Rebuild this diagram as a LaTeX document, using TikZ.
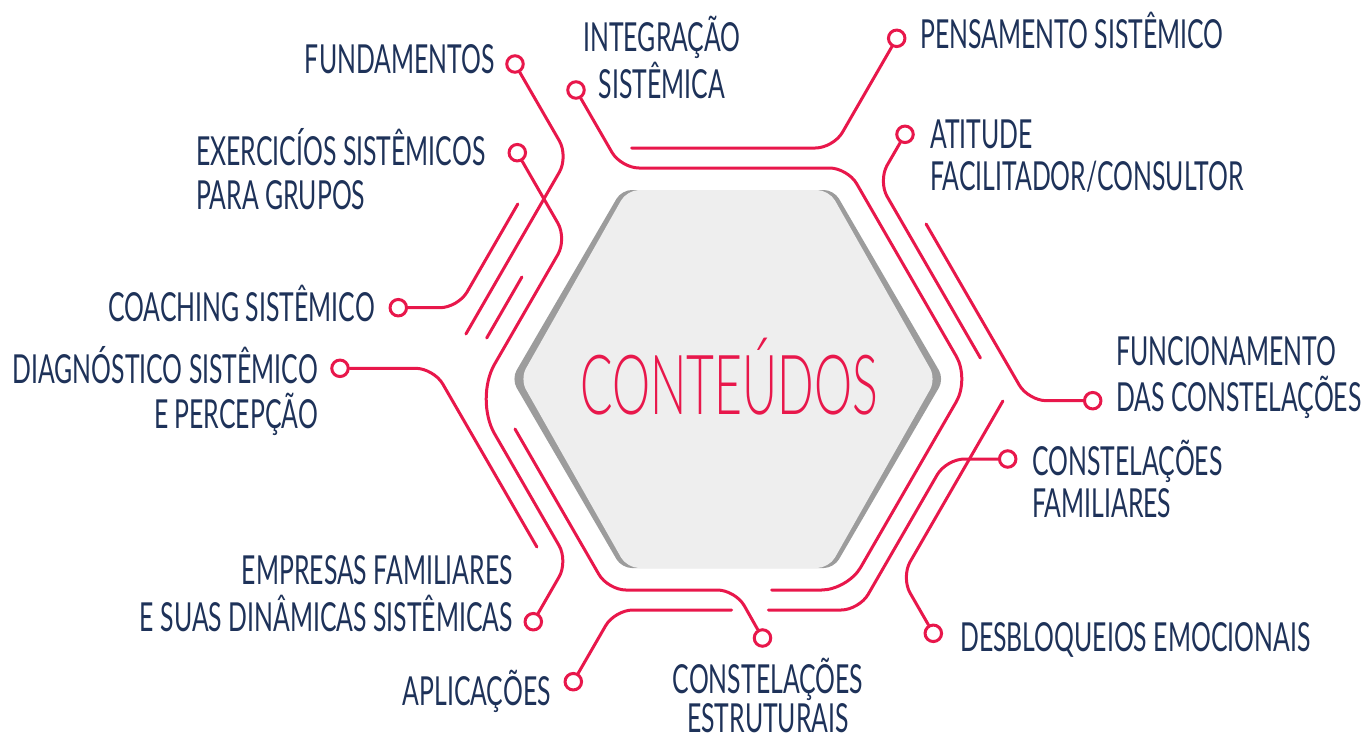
\documentclass[tikz,border=0pt]{standalone}
\usepackage{fontspec}
\newfontfamily\lbl{Lato}[FakeStretch=0.62]
\newfontfamily\ttl{Lato Light}[FakeStretch=0.58]
\definecolor{wred}{HTML}{E8174B}
\definecolor{navy}{HTML}{1E3259}
\definecolor{hexgray}{HTML}{9C9C9C}
\definecolor{hexlight}{HTML}{EEEEEE}
\tikzset{
  wire/.style={draw=wred, line width=3pt, line cap=round, line join=round, rounded corners=18pt},
  dot/.style={circle, draw=wred, line width=3pt, fill=white, minimum size=16.5pt, inner sep=0pt},
  lab/.style={text=navy, font=\lbl\fontsize{40}{44}\selectfont, inner sep=0pt},
}
\begin{document}
\begin{tikzpicture}[x=1pt,y=-1pt]
\useasboundingbox (0,0) rectangle (1367,739);
% central hexagon
\path[fill=hexgray, rounded corners=10pt] (621.6,190) -- (833.9,190) -- (944,379) -- (833.9,568) -- (621.6,568) -- (511.5,379) -- cycle;
\path[fill=hexlight, rounded corners=12pt] (627,190) -- (829,190) -- (936,379) -- (829,568) -- (627,568) -- (520,379) -- cycle;
\node[text=wred, font=\ttl\fontsize{83}{90}\selectfont, inner sep=0pt, anchor=base] (title) at (729,414) {CONTEÚDOS};

% circles
\node[dot] (cFund) at (515,64) {};
\node[dot] (cInt) at (576,90) {};
\node[dot] (cExer) at (517.3,152.7) {};
\node[dot] (cPens) at (896.7,38.3) {};
\node[dot] (cAti) at (905,134.3) {};
\node[dot] (cCoach) at (398.3,307.7) {};
\node[dot] (cDiag) at (340,368.3) {};
\node[dot] (cFunc) at (1092.7,400.7) {};
\node[dot] (cFam) at (1007.7,459) {};
\node[dot] (cEmp) at (533.3,621.7) {};
\node[dot] (cDes) at (933.3,633.3) {};
\node[dot] (cEstr) at (762.5,638) {};
\node[dot] (cApl) at (573.3,681.7) {};

% free ends
\coordinate (ePens) at (631.7,148);
\coordinate (eInt) at (771.7,590);
\coordinate (eFund) at (465.9,334);
\coordinate (eCoach) at (517.8,204);
\coordinate (sD1) at (521.9,277);
\coordinate (sD2) at (486.7,338);
\coordinate (eDiag) at (536.9,547);
\coordinate (sEstr) at (515,429);
\coordinate (eApl) at (731.7,610);
\coordinate (eFam) at (768.3,610);
\coordinate (sDes) at (1002.9,401);
\coordinate (eAti) at (980.4,358);
\coordinate (sFunc) at (926.1,224);

% wires
\draw[wire] (cPens) -- (833.4,148) -- (ePens);
\draw[wire] (cInt) -- (621,168) -- (847.6,168) [rounded corners=26pt] -- (969.4,379) -- (847.6,590) [rounded corners=18pt] -- (eInt);
\draw[wire] (cFund) -- (568.4,156.5) -- (eFund);
\draw[wire] (cExer) -- (566.9,238.8) [rounded corners=40pt] -- (474.5,399) [rounded corners=18pt] -- (568.1,561.2) -- (cEmp);
\draw[wire] (cCoach) -- (458,307.7) -- (eCoach);
\draw[wire] (sD1) -- (sD2);
\draw[wire] (cDiag) -- (433.7,368.3) -- (eDiag);
\draw[wire] (sEstr) -- (607.9,590) -- (735.4,590) -- (cEstr);
\draw[wire] (cApl) -- (614.7,610) -- (eApl);
\draw[wire] (cFam) -- (946.3,459) -- (859.1,610) -- (eFam);
\draw[wire] (sDes) -- (901.1,577.4) -- (cDes);
\draw[wire] (cAti) -- (878.1,180.9) -- (eAti);
\draw[wire] (sFunc) -- (1028.3,400.7) -- (cFunc);

% labels
\node[lab, anchor=base east] (tFund) at (495,73) {FUNDAMENTOS};
\node[lab, anchor=base west] (tExer1) at (196,165) {EXERCICÍOS SISTÊMICOS};
\node[lab, anchor=base west] (tExer2) at (196,209) {PARA GRUPOS};
\node[lab, anchor=base east] (tCoach) at (375,321) {COACHING SISTÊMICO};
\node[lab, anchor=base east] (tDiag1) at (318,383) {DIAGNÓSTICO SISTÊMICO};
\node[lab, anchor=base east] (tDiag2) at (318,428) {E PERCEPÇÃO};
\node[lab, anchor=base east] (tEmp1) at (513,584) {EMPRESAS FAMILIARES};
\node[lab, anchor=base east] (tEmp2) at (513,631) {E SUAS DINÂMICAS SISTÊMICAS};
\node[lab, anchor=base east] (tApl) at (551,705) {APLICAÇÕES};
\node[lab, anchor=base] (tInt1) at (662,51) {INTEGRAÇÃO};
\node[lab, anchor=base] (tInt2) at (662,98) {SISTÊMICA};
\node[lab, anchor=base] (tEstr1) at (768,693) {CONSTELAÇÕES};
\node[lab, anchor=base] (tEstr2) at (768,732) {ESTRUTURAIS};
\node[lab, anchor=base west] (tPens) at (920,48) {PENSAMENTO SISTÊMICO};
\node[lab, anchor=base west] (tAti1) at (930,148) {ATITUDE};
\node[lab, anchor=base west] (tAti2) at (930,190) {FACILITADOR/CONSULTOR};
\node[lab, anchor=base west] (tFunc1) at (1116,365) {FUNCIONAMENTO};
\node[lab, anchor=base west] (tFunc2) at (1116,411) {DAS CONSTELAÇÕES};
\node[lab, anchor=base west] (tFam1) at (1032,475) {CONSTELAÇÕES};
\node[lab, anchor=base west] (tFam2) at (1032,517) {FAMILIARES};
\node[lab, anchor=base west] (tDes) at (960,651) {DESBLOQUEIOS EMOCIONAIS};
\end{tikzpicture}
\end{document}
